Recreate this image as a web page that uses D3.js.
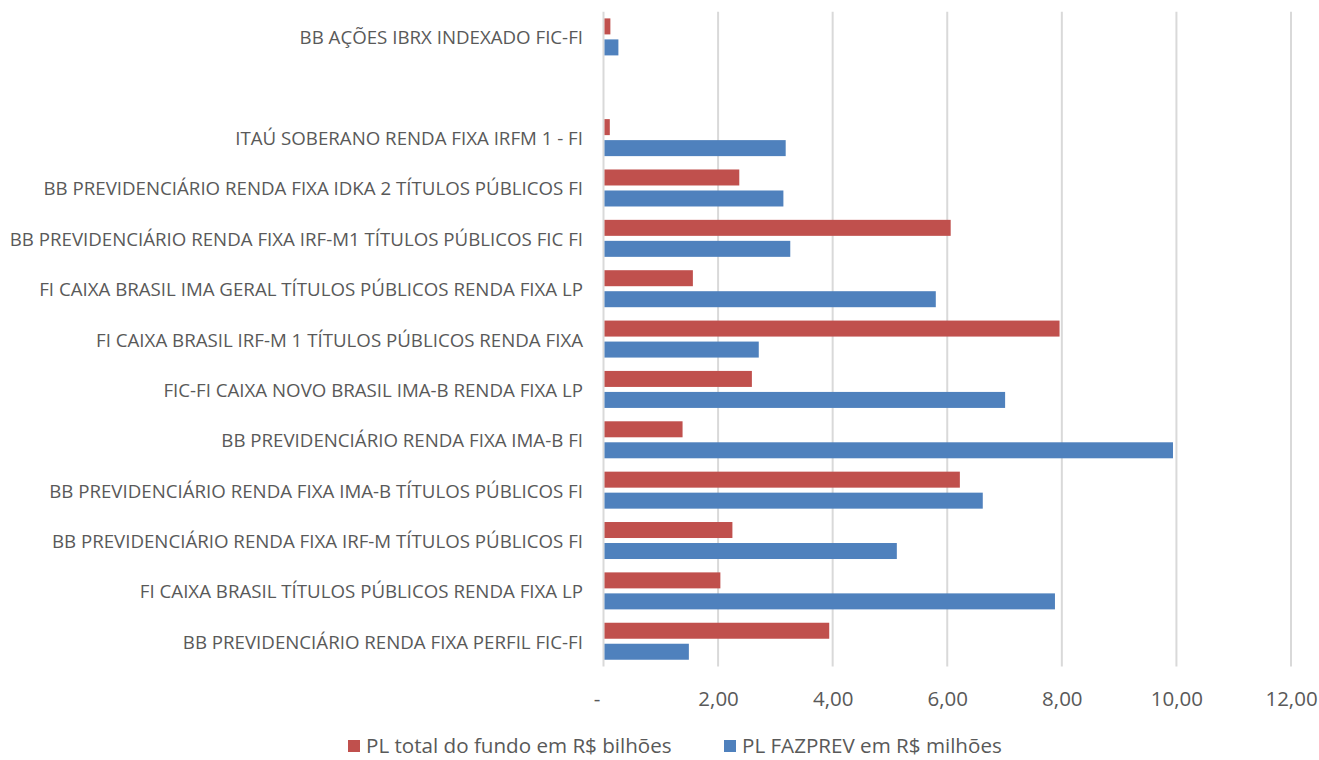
<!DOCTYPE html>
<html>
<head>
<meta charset="utf-8">
<script src="https://cdn.jsdelivr.net/npm/d3@7"></script>
<style>
  body { margin: 0; background: #fff; }
  svg { display: block; font-family: "Open Sans", sans-serif; }
</style>
</head>
<body>
<svg id="chart" width="1319" height="760"></svg>
<script>
// categorias (de cima para baixo) — a vazia é o espaço entre BB AÇÕES e ITAÚ
const categories = [
  "BB AÇÕES IBRX INDEXADO FIC-FI",
  "",
  "ITAÚ SOBERANO RENDA FIXA IRFM 1 - FI",
  "BB PREVIDENCIÁRIO RENDA FIXA IDKA 2 TÍTULOS PÚBLICOS FI",
  "BB PREVIDENCIÁRIO RENDA FIXA IRF-M1 TÍTULOS PÚBLICOS FIC FI",
  "FI CAIXA BRASIL IMA GERAL TÍTULOS PÚBLICOS RENDA FIXA LP",
  "FI CAIXA BRASIL IRF-M 1 TÍTULOS PÚBLICOS RENDA FIXA",
  "FIC-FI CAIXA NOVO BRASIL IMA-B RENDA FIXA LP",
  "BB PREVIDENCIÁRIO RENDA FIXA IMA-B FI",
  "BB PREVIDENCIÁRIO RENDA FIXA IMA-B TÍTULOS PÚBLICOS FI",
  "BB PREVIDENCIÁRIO RENDA FIXA IRF-M TÍTULOS PÚBLICOS FI",
  "FI CAIXA BRASIL TÍTULOS PÚBLICOS RENDA FIXA LP",
  "BB PREVIDENCIÁRIO RENDA FIXA PERFIL FIC-FI",
];

// PL total do fundo em R$ bilhões
const plTotal = [0.12, null, 0.11, 2.37, 6.06, 1.56, 7.96, 2.59, 1.38, 6.22, 2.25, 2.04, 3.94];
// PL FAZPREV em R$ milhões
const plFazprev = [0.26, null, 3.18, 3.14, 3.26, 5.80, 2.71, 7.01, 9.94, 6.62, 5.12, 7.88, 1.49];

const seriesNames = ["PL total do fundo em R$ bilhões", "PL FAZPREV em R$ milhões"];
const seriesColors = ["#c0504d", "#4f81bd"];
const tickValues = [0, 2, 4, 6, 8, 10, 12];

const svg = d3.select("#chart");
const textColor = "#595959";

// escalas
const x = d3.scaleLinear().domain([0, 12]).range([603.5, 1291]);
const y = d3.scaleBand().domain(d3.range(categories.length)).range([11.7, 666.4]);
const inner = d3.scaleBand().domain([0, 1]).range([6.7, 43.7]).paddingInner(0.238);

// linhas de grade
svg.append("g")
  .selectAll("line")
  .data(tickValues)
  .join("line")
  .attr("x1", (d) => x(d))
  .attr("x2", (d) => x(d))
  .attr("y1", 11.7)
  .attr("y2", 666.4)
  .attr("stroke", "#d9d9d9")
  .attr("stroke-width", 2);

// eixo x (só rótulos)
const xAxis = d3.axisBottom(x)
  .tickValues(tickValues)
  .tickSize(0)
  .tickPadding(0)
  .tickFormat((d) => (d === 0 ? "-" : d3.format(".2f")(d).replace(".", ",")));

const gx = svg.append("g").attr("transform", "translate(0,698)").call(xAxis);
gx.select(".domain").remove();
gx.selectAll("text")
  .attr("font-family", "Open Sans")
  .attr("font-size", 20.5)
  .attr("fill", textColor)
  .attr("dy", null)
  .attr("dominant-baseline", "central");
gx.selectAll(".tick").filter((d) => d === 0).select("text").attr("dx", -7);

// rótulos das categorias
svg.append("g")
  .selectAll("text")
  .data(categories)
  .join("text")
  .attr("x", 583)
  .attr("y", (d, i) => y(i) + y.bandwidth() / 2)
  .attr("text-anchor", "end")
  .attr("dominant-baseline", "central")
  .attr("font-size", 18.7)
  .attr("fill", textColor)
  .text((d) => d);

// barras
const series = [plTotal, plFazprev];
series.forEach((vals, s) => {
  svg.append("g")
    .selectAll("rect")
    .data(vals.map((v, i) => ({ v, i })).filter((d) => d.v != null))
    .join("rect")
    .attr("x", x(0) + 1)
    .attr("y", (d) => y(d.i) + inner(s))
    .attr("width", (d) => x(d.v) - x(0) - 1)
    .attr("height", inner.bandwidth())
    .attr("fill", seriesColors[s]);
});

// legenda
const legendX = [348, 724];
const legend = svg.append("g")
  .selectAll("g")
  .data(seriesNames)
  .join("g")
  .attr("transform", (d, i) => `translate(${legendX[i]},745)`);
legend.append("rect")
  .attr("x", 0).attr("y", -5)
  .attr("width", 12).attr("height", 12)
  .attr("fill", (d, i) => seriesColors[i]);
legend.append("text")
  .attr("x", 18)
  .attr("dominant-baseline", "central")
  .attr("font-size", 20.6)
  .attr("fill", textColor)
  .text((d) => d);
</script>
</body>
</html>
